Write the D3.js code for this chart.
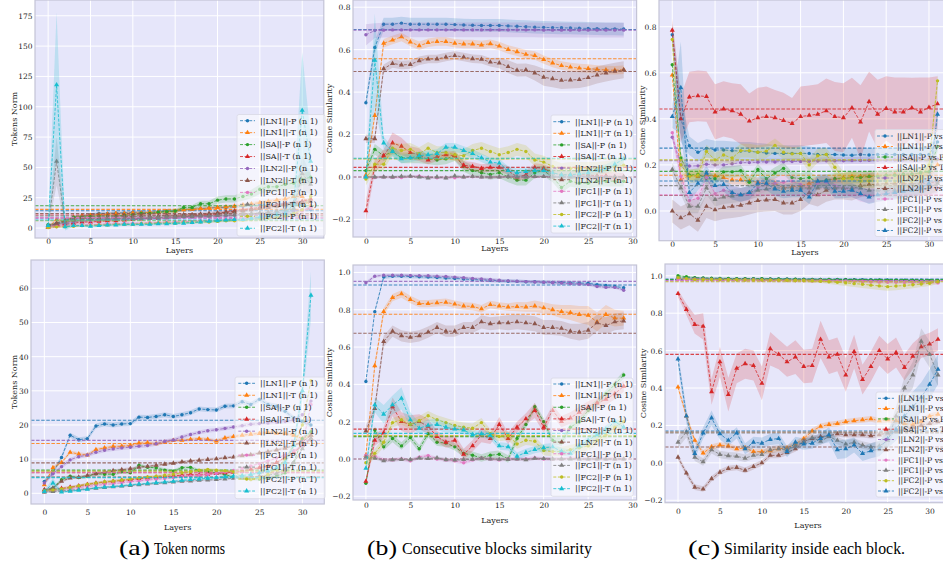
<!DOCTYPE html>
<meta charset="utf-8">
<style>
  body { margin: 0; background: #fff; }
  svg text { font-family: "DejaVu Serif", serif; fill: #262626; }
  .cap text { font-family: "Liberation Serif", serif; fill: #000; }
</style>
<body>
<script src="https://d3js.org/d3.v7.min.js"></script>
<script>

// ---------- data ----------
var layers32 = d3.range(32);
var layers30 = d3.range(30);
var xTicks = [0, 5, 10, 15, 20, 25, 30];

var tab10 = ["#1f77b4", "#ff7f0e", "#2ca02c", "#d62728", "#9467bd", "#8c564b", "#e377c2", "#7f7f7f", "#bcbd22", "#17becf"];
var insideColors = ["#1f77b4", "#ff7f0e", "#2ca02c", "#d62728", "#9467bd", "#8c564b", "#e377c2", "#7f7f7f", "#bcbd22", "#1f77b4"];

var normNames = ["||LN1||-P (n 1)", "||LN1||-T (n 1)", "||SA||-P (n 1)", "||SA||-T (n 1)", "||LN2||-P (n 1)",
                 "||LN2||-T (n 1)", "||FC1||-P (n 1)", "||FC1||-T (n 1)", "||FC2||-P (n 1)", "||FC2||-T (n 1)"];
var insideNames = ["||LN1||-P vs P", "||LN1||-P vs T", "||SA||-P vs P", "||SA||-P vs T", "||LN2||-P vs P",
                   "||LN2||-P vs T", "||FC1||-P vs P", "||FC1||-P vs T", "||FC2||-P vs P", "||FC2||-P vs T"];

var normTopTicks = [0, 25, 50, 75, 100, 125, 150, 175];
var normBotTicks = [0, 10, 20, 30, 40, 50, 60];
var consTopTicks = [-0.2, 0.0, 0.2, 0.4, 0.6, 0.8];
var consBotTicks = [-0.2, 0.0, 0.2, 0.4, 0.6, 0.8, 1.0];
var insideTopTicks = [0.0, 0.2, 0.4, 0.6, 0.8];
var insideBotTicks = [-0.2, 0.0, 0.2, 0.4, 0.6, 0.8, 1.0];

// (a) top: token norms
var normTopValues = [
  [2,4,6,9,10,11,12,12,12.5,12.5,13,13,13,13.5,14,14,15,15.5,16,16.5,17,17,17.5,18,18.5,19,19,19.5,20,20,19,15],
  [0.5,7,6,9,10,10.5,11,11.5,12,12,12.5,12.5,13,13,13.5,14,15,15.5,16,16.5,17,17.5,18,19,20,21,22,23,24,26,26,18],
  [3,3,5,9,9,9.5,10,10,10,10.5,11,12,12,13,13.5,14,17,17,20,20,23,24,24,26,28,32,34,34,36,37,40,42],
  [1,2,3,4,5,5,5.5,6,6,6.5,7,7.5,8,8,8.5,9,9.5,10,10.5,11,12,13,14,15,16,17,18,19,20,21,22,24],
  [2,3,4,5,6,6,6.5,7,7,7.5,7.5,8,8,8,8.5,8.5,9,9,9.5,9.5,10,10,10.5,11,11,11.5,12,12.5,13,14,15,16],
  [1,4,6,7,8,8,8.5,9,9,9.5,9.5,10,10,10,10.5,10.5,11,11,11.5,12,12.5,13,13.5,14,15,16,17,18,19,20,21,22],
  [0.5,1,1.5,2,2.5,3,3,3.5,3.5,4,4,4,4.5,4.5,5,5,5.5,5.5,6,6,6.5,7,7,7.5,8,8.5,9,10,11,12,14,17],
  [2,55,5,6,6.5,7,7,7.5,7.5,8,8,8,8.5,8.5,9,9,9.5,9.5,10,10,10.5,11,11,11.5,12,12.5,13,14,15,16,45,36],
  [0.5,1,1,1.5,2,2,2.5,2.5,3,3,3,3.5,3.5,4,4,4,4.5,4.5,5,5,5.5,6,6,6.5,7,7.5,8,9,10,12,15,26],
  [2,118,1,2,2,1.5,2,2.5,2.5,3,3,3,3,3.5,3.5,4,4,4.5,5,5.5,6,6.5,7,7,8,9,10,11,12,20,97,55]
];
var normTopMeans = [14.3, 15.4, 18.4, 10.7, 8.2, 12, 8.6, 9.9, 6, 6.6];
var normTopBands = [1.2, 1.5,
  [0.5,0.5,1,1,1,1,1,1,1,1,1,1,1,1,1.5,1.5,2,2,2.5,2.5,3,3,3,3.5,3.5,4,4,4,4.5,4.5,5,5],
  1.2, 1, 1.5, 1,
  [1,20,2,1,1,1,1,1,1,1,1,1,1,1,1,1,1,1,1,1,1,1,1,1,1,1,1,1.5,2,4,15,8],
  1,
  [2,60,3,1,1,1,1,1,1,1,1,1,1,1,1,1,1,1,1,1,1,1,1,1,1,2,2,3,4,10,48,20]];

// (a) bottom
var normBotValues = [
  [3.5,6,10.5,17,15.7,16,19.7,20.3,20,20.3,20.4,22.3,22.2,22.5,23,22.5,23,23.6,24.7,24.5,24.4,25.5,25.6,26.8,26,27.5,26,25.5,24,22,21,20],
  [2.5,7.5,9,12,11.5,11.2,12.8,13.3,13.7,13.8,14,14.7,14.8,14.5,15,15.5,15.5,15.8,16,15.8,15.3,16.2,16.6,17,17.3,17.5,17.8,17.6,17.5,17,16,17],
  [0.5,1.5,4,5,4.6,5,5.7,5.6,5.6,6.3,6,8.2,7.6,7.5,6.8,6.5,7.5,7.6,6.6,6.3,6,5.5,4.8,4.5,4.3,4.2,4.5,5,6,9,16,18],
  [1,1.2,1.4,1.8,2.2,2.6,3,3.3,3.5,3.8,4,4.3,4.5,4.7,4.9,5.1,5.3,5.5,5.4,5.6,5.8,6,6.2,6.5,7,7.5,8,9,10.5,12,14,16],
  [3,5.7,7.8,9.8,10.7,11.2,12,12.6,13,13.3,13.5,13.8,14,14.5,15.2,15.6,16.5,17.2,17.8,18.3,18.6,19,19.4,19.8,20.2,20.4,20.6,20.8,21,21.5,23,27],
  [1,1.5,3.5,4.5,4.7,5.2,5.7,6.2,6.6,6.9,7.2,7.6,7.9,8.2,8.5,8.8,9.2,9.5,9.7,9.9,10.1,10.4,10.6,11,11.3,11.8,12.2,12.7,13.2,14,15,17],
  [0.5,0.8,1.1,1.4,1.7,2,2.3,2.6,2.8,3.1,3.4,3.6,3.9,4.1,4.3,4.6,4.9,5.1,5.3,5.5,5.8,6.2,6.7,7.3,8,8.7,9.5,10.3,11.2,12.5,14,26],
  [0.3,0.5,0.7,0.9,1.1,1.3,1.5,1.7,1.9,2.1,2.3,2.5,2.7,2.9,3.1,3.3,3.5,3.6,3.8,3.9,4,4.2,4.4,4.6,4.8,5,5.3,5.8,7,9,13,16],
  [0.8,1,1.3,1.7,2.2,2.7,3,3.4,3.6,3.9,4.2,4.5,4.8,5,5.3,5.6,6,6.3,6.8,7,6.8,6.6,6.3,5,4,4.5,5.5,7,10,14,20,33],
  [0.5,3,0.4,0.6,0.9,1.2,1.6,1.8,2,2.2,2.5,2.7,2.9,3.1,3.3,3.5,3.8,4,4.2,4.4,4.6,4.8,5,5.2,5.5,6,6.5,7.5,9,14,30,58]
];
var normBotMeans = [21.4, 14.6, 6.8, 6.0, 15.5, 8.9, 6.2, 4.8, 6.5, 4.6];
var normBotBands = [0.7, 0.5, 0.5, 0.4, 0.6, 0.4, 0.3, 0.3, 0.4,
  [0.3,1.5,0.3,0.3,0.3,0.3,0.3,0.3,0.3,0.3,0.3,0.3,0.3,0.3,0.3,0.3,0.3,0.3,0.3,0.3,0.3,0.3,0.3,0.3,0.3,0.4,0.5,0.6,0.8,1.5,3,7]];

// (b) top: consecutive blocks similarity
var consTopValues = [
  [0.35,0.61,0.72,0.72,0.725,0.72,0.72,0.72,0.72,0.72,0.718,0.716,0.715,0.714,0.714,0.714,0.712,0.71,0.708,0.706,0.705,0.704,0.703,0.702,0.701,0.7,0.699,0.698,0.698,0.697],
  [0.01,0.29,0.63,0.645,0.66,0.636,0.618,0.633,0.638,0.638,0.63,0.627,0.627,0.622,0.628,0.617,0.601,0.59,0.578,0.572,0.553,0.537,0.525,0.518,0.513,0.511,0.507,0.504,0.503,0.505],
  [0.03,0.13,0.1,0.12,0.09,0.09,0.09,0.085,0.08,0.085,0.1,0.05,0.03,0.02,0.012,0.02,0.0,-0.015,-0.015,0.02,0.03,0.0,-0.05,-0.02,-0.03,-0.03,-0.02,-0.02,-0.02,-0.02],
  [-0.16,0.05,0.1,0.16,0.145,0.115,0.105,0.08,0.095,0.105,0.1,0.055,0.05,0.04,0.045,0.045,0.03,0.0,0.01,0.045,0.04,0.02,0.01,0.01,0.01,0.01,0.005,0.005,0.0,0.0],
  [0.67,0.69,0.692,0.693,0.693,0.693,0.693,0.693,0.693,0.693,0.693,0.693,0.693,0.693,0.693,0.693,0.693,0.693,0.693,0.693,0.692,0.692,0.692,0.692,0.692,0.692,0.692,0.692,0.692,0.692],
  [0.18,0.18,0.51,0.535,0.528,0.53,0.548,0.556,0.556,0.565,0.572,0.565,0.557,0.555,0.541,0.537,0.52,0.503,0.505,0.49,0.47,0.463,0.455,0.457,0.459,0.468,0.48,0.49,0.498,0.505],
  [0.0,-0.003,0.0,-0.002,-0.003,0.002,0.004,-0.002,-0.004,-0.003,-0.004,0.0,0.001,0.0,-0.001,0.0,0.001,0.002,0.0,0.001,0.002,0.001,0.0,0.0,0.001,0.0,0.0,0.001,0.0,0.0],
  [0.0,0.0,0.0,0.0,0.003,0.004,0.0,-0.005,0.0,-0.005,0.005,0.0,0.003,0.0,0.0,0.0,0.002,0.0,0.0,0.002,0.002,0.0,0.0,0.0,0.0,0.002,0.0,0.0,0.001,0.0],
  [-0.01,0.06,0.06,0.135,0.125,0.13,0.11,0.135,0.115,0.115,0.105,0.1,0.125,0.135,0.12,0.105,0.115,0.13,0.12,0.08,0.07,0.05,0.035,0.04,0.04,0.04,0.04,0.045,0.05,0.055],
  [0.0,0.55,0.16,0.12,0.085,0.09,0.1,0.105,0.11,0.14,0.14,0.125,0.11,0.09,0.07,0.065,0.03,0.02,0.025,0.03,0.03,0.02,0.01,0.01,0.015,0.02,0.03,0.04,0.06,0.085]
];
var consTopMeans = [0.695, 0.557, 0.03, 0.045, 0.692, 0.497, 0.0, 0.0, 0.085, 0.088];
var consTopBands = [0.03, 0.02, 0.025,
  [0.05,0.03,0.03,0.05,0.04,0.03,0.03,0.02,0.02,0.02,0.02,0.02,0.02,0.02,0.02,0.02,0.02,0.02,0.02,0.02,0.02,0.02,0.02,0.02,0.02,0.02,0.02,0.02,0.02,0.02],
  [0.05,0.035,0.035,0.035,0.035,0.035,0.035,0.035,0.035,0.035,0.035,0.035,0.035,0.035,0.035,0.035,0.035,0.035,0.035,0.035,0.035,0.035,0.035,0.035,0.035,0.035,0.035,0.035,0.035,0.035],
  [0.02,0.02,0.02,0.02,0.02,0.02,0.02,0.02,0.02,0.02,0.02,0.02,0.02,0.02,0.02,0.025,0.03,0.03,0.03,0.035,0.04,0.04,0.04,0.04,0.04,0.04,0.04,0.04,0.04,0.04],
  0.006, 0.006, 0.03,
  [0.02,0.22,0.03,0.02,0.02,0.02,0.02,0.02,0.02,0.02,0.02,0.02,0.02,0.02,0.02,0.02,0.02,0.02,0.02,0.02,0.02,0.02,0.02,0.02,0.02,0.02,0.02,0.02,0.02,0.02]];

// (b) bottom
var consBotValues = [
  [0.415,0.79,0.975,0.98,0.98,0.978,0.977,0.975,0.973,0.97,0.968,0.965,0.962,0.96,0.958,0.955,0.953,0.952,0.95,0.95,0.948,0.947,0.946,0.944,0.943,0.942,0.935,0.93,0.925,0.918],
  [0.02,0.5,0.79,0.865,0.885,0.855,0.833,0.833,0.837,0.84,0.83,0.82,0.818,0.805,0.828,0.82,0.815,0.817,0.815,0.82,0.81,0.8,0.79,0.785,0.775,0.77,0.735,0.775,0.755,0.755],
  [-0.13,0.155,0.065,0.11,0.07,0.115,0.055,0.135,0.09,0.085,0.065,0.03,0.02,0.005,0.02,0.025,0.0,0.11,0.185,0.28,0.2,0.1,0.09,0.17,0.2,0.26,0.3,0.35,0.4,0.45],
  [-0.12,0.1,0.14,0.28,0.2,0.185,0.2,0.175,0.12,0.09,0.1,0.025,0.07,0.13,0.11,0.185,0.11,0.17,0.215,0.26,0.17,0.26,0.2,0.22,0.25,0.28,0.3,0.32,0.35,0.39],
  [0.945,0.98,0.985,0.985,0.985,0.984,0.983,0.982,0.98,0.978,0.975,0.972,0.968,0.965,0.962,0.958,0.955,0.953,0.951,0.949,0.947,0.945,0.943,0.94,0.938,0.935,0.925,0.92,0.92,0.905],
  [0.15,0.27,0.63,0.685,0.66,0.652,0.66,0.68,0.705,0.685,0.685,0.705,0.705,0.735,0.725,0.73,0.73,0.735,0.73,0.725,0.705,0.705,0.7,0.685,0.68,0.69,0.73,0.715,0.735,0.74],
  [0.02,0.015,-0.005,-0.005,0.0,-0.01,0.01,0.018,0.0,-0.005,-0.01,-0.02,-0.005,0.005,0.0,-0.005,0.0,0.0,0.0,0.005,0.0,0.0,0.0,0.005,0.0,0.0,0.0,0.0,0.0,0.0],
  [0.01,0.005,-0.01,-0.005,-0.003,-0.004,0.005,0.002,0.006,-0.004,-0.006,-0.003,-0.002,0.003,0.0,-0.002,-0.003,0.0,-0.005,0.003,0.002,0.0,0.0,0.0,0.0,0.0,0.0,0.0,0.0,0.0],
  [-0.02,0.03,0.09,0.195,0.21,0.185,0.205,0.232,0.21,0.195,0.18,0.17,0.165,0.195,0.135,0.12,0.125,0.08,0.1,0.095,0.045,0.04,0.04,0.05,0.06,0.07,0.1,0.13,0.17,0.2],
  [-0.05,0.29,0.24,0.29,0.325,0.21,0.165,0.18,0.185,0.17,0.16,0.155,0.13,0.135,0.125,0.07,0.065,0.015,0.035,0.05,0.06,0.065,0.04,0.03,0.07,0.1,0.13,0.16,0.2,0.17]
];
var consBotMeans = [0.933, 0.776, 0.12, 0.16, 0.952, 0.674, 0.0, 0.0, 0.125, 0.137];
var consBotBands = [0.01,
  [0.02,0.02,0.02,0.02,0.02,0.02,0.02,0.02,0.02,0.02,0.02,0.02,0.02,0.02,0.02,0.02,0.02,0.025,0.025,0.03,0.03,0.03,0.035,0.04,0.045,0.05,0.05,0.05,0.045,0.04],
  0.02,
  [0.02,0.03,0.03,0.05,0.05,0.05,0.04,0.04,0.03,0.03,0.03,0.03,0.03,0.04,0.03,0.04,0.03,0.03,0.03,0.04,0.03,0.03,0.03,0.03,0.03,0.03,0.03,0.03,0.03,0.03],
  0.008,
  [0.03,0.03,0.03,0.03,0.03,0.03,0.03,0.03,0.03,0.03,0.03,0.03,0.03,0.035,0.035,0.035,0.04,0.04,0.04,0.04,0.04,0.04,0.04,0.04,0.045,0.045,0.045,0.045,0.045,0.045],
  0.01, 0.008, 0.025,
  [0.02,0.04,0.05,0.05,0.06,0.04,0.03,0.03,0.03,0.03,0.02,0.02,0.02,0.02,0.02,0.02,0.02,0.02,0.02,0.02,0.02,0.02,0.02,0.02,0.02,0.02,0.02,0.02,0.02,0.02]];

// (c) top: similarity inside each block
var insideTopValues = [
  [0.765,0.4,0.283,0.255,0.272,0.265,0.265,0.262,0.26,0.26,0.255,0.252,0.25,0.25,0.25,0.25,0.25,0.245,0.245,0.245,0.243,0.242,0.245,0.243,0.245,0.245,0.245,0.245,0.245,0.245,0.245,0.3],
  [0.59,0.135,0.155,0.15,0.155,0.152,0.145,0.135,0.135,0.13,0.125,0.12,0.12,0.1,0.105,0.11,0.12,0.13,0.13,0.14,0.145,0.15,0.15,0.15,0.155,0.155,0.16,0.16,0.16,0.165,0.17,0.2],
  [0.635,0.23,0.155,0.16,0.14,0.14,0.17,0.17,0.175,0.125,0.18,0.14,0.165,0.185,0.145,0.14,0.145,0.125,0.135,0.14,0.14,0.145,0.145,0.15,0.15,0.155,0.155,0.16,0.16,0.165,0.17,0.28],
  [0.785,0.4,0.495,0.5,0.497,0.43,0.443,0.435,0.42,0.39,0.405,0.41,0.405,0.393,0.38,0.41,0.415,0.42,0.435,0.41,0.405,0.448,0.386,0.475,0.42,0.445,0.43,0.43,0.448,0.43,0.45,0.465],
  [0.32,0.2,0.195,0.196,0.203,0.2,0.2,0.205,0.21,0.21,0.212,0.213,0.213,0.214,0.215,0.215,0.216,0.217,0.218,0.218,0.218,0.219,0.219,0.22,0.22,0.221,0.222,0.222,0.223,0.224,0.224,0.225],
  [0.0,-0.03,-0.012,-0.04,0.02,0.005,0.015,0.02,0.025,0.035,0.045,0.048,0.05,0.035,0.035,0.05,0.08,0.07,0.09,0.1,0.1,0.095,0.11,0.115,0.115,0.12,0.12,0.12,0.12,0.12,0.12,0.13],
  [0.34,0.15,0.045,0.055,0.145,0.075,0.09,0.08,0.07,0.075,0.1,0.115,0.12,0.125,0.13,0.115,0.1,0.12,0.125,0.11,0.1,0.09,0.07,0.065,0.07,0.08,0.085,0.09,0.09,0.095,0.1,0.1],
  [0.18,0.1,0.02,0.02,0.1,0.05,0.06,0.065,0.07,0.08,0.09,0.095,0.1,0.1,0.1,0.1,0.1,0.1,0.1,0.1,0.1,0.1,0.1,0.09,0.09,0.09,0.09,0.09,0.09,0.095,0.1,0.12],
  [0.745,0.2,0.15,0.155,0.258,0.222,0.243,0.23,0.262,0.262,0.255,0.26,0.285,0.255,0.248,0.25,0.2,0.24,0.245,0.19,0.14,0.14,0.13,0.13,0.13,0.13,0.13,0.13,0.13,0.14,0.2,0.565],
  [0.41,0.535,0.08,0.12,0.165,0.11,0.115,0.08,0.07,0.08,0.12,0.12,0.095,0.085,0.09,0.09,0.06,0.13,0.13,0.085,0.085,0.09,0.075,0.06,0.07,0.075,0.08,0.085,0.09,0.1,0.12,0.42]
];
var insideTopMeans = [0.273, 0.155, 0.172, 0.443, 0.218, 0.067, 0.07, 0.11, 0.222, 0.13];
var insideTopBands = [
  [0.05,0.1,0.04,0.04,0.04,0.04,0.04,0.04,0.04,0.04,0.04,0.04,0.035,0.035,0.035,0.035,0.03,0.03,0.03,0.03,0.03,0.03,0.03,0.03,0.03,0.03,0.03,0.03,0.03,0.03,0.03,0.04],
  0.02, 0.025,
  [0.05,0.1,0.11,0.11,0.11,0.12,0.12,0.12,0.13,0.12,0.13,0.13,0.12,0.12,0.11,0.13,0.13,0.13,0.14,0.15,0.15,0.13,0.16,0.13,0.15,0.14,0.15,0.15,0.13,0.15,0.13,0.12],
  0.015, 0.05, 0.03, 0.03, 0.03,
  [0.05,0.2,0.04,0.03,0.03,0.03,0.03,0.03,0.03,0.03,0.03,0.03,0.03,0.03,0.03,0.03,0.03,0.03,0.03,0.03,0.03,0.03,0.03,0.03,0.03,0.03,0.03,0.03,0.03,0.03,0.03,0.04]];

// (c) bottom
var insideBotValues = [
  [0.99,0.99,0.988,0.987,0.986,0.986,0.985,0.985,0.985,0.984,0.984,0.983,0.983,0.983,0.982,0.982,0.981,0.981,0.98,0.98,0.98,0.979,0.979,0.978,0.978,0.978,0.977,0.977,0.976,0.976,0.975,0.975],
  [0.405,0.25,0.12,0.052,0.085,0.095,0.09,0.075,0.08,0.06,0.06,0.065,0.075,0.08,0.1,0.13,0.17,0.195,0.205,0.21,0.22,0.225,0.23,0.235,0.225,0.23,0.225,0.21,0.205,0.22,0.25,0.26],
  [1.0,0.995,0.99,0.988,0.987,0.986,0.986,0.985,0.985,0.984,0.984,0.983,0.983,0.982,0.982,0.981,0.981,0.98,0.98,0.979,0.979,0.978,0.977,0.977,0.976,0.975,0.975,0.974,0.974,0.973,0.973,0.972],
  [0.905,0.82,0.74,0.73,0.38,0.54,0.365,0.505,0.53,0.52,0.425,0.61,0.58,0.54,0.565,0.515,0.52,0.66,0.565,0.58,0.47,0.595,0.445,0.515,0.6,0.555,0.59,0.51,0.57,0.62,0.635,0.66],
  [0.985,0.985,0.984,0.983,0.982,0.982,0.981,0.981,0.98,0.98,0.979,0.979,0.978,0.978,0.977,0.977,0.976,0.976,0.975,0.975,0.974,0.973,0.972,0.971,0.97,0.97,0.969,0.968,0.968,0.967,0.967,0.966],
  [0.03,-0.055,-0.13,-0.14,-0.085,-0.05,-0.03,-0.025,-0.04,-0.02,0.0,0.04,0.04,0.055,0.075,0.115,0.13,0.14,0.145,0.155,0.15,0.15,0.15,0.145,0.15,0.16,0.17,0.18,0.19,0.2,0.21,0.22],
  [0.98,0.98,0.979,0.979,0.978,0.978,0.977,0.977,0.976,0.976,0.975,0.975,0.974,0.974,0.973,0.973,0.972,0.972,0.971,0.97,0.97,0.969,0.968,0.967,0.966,0.965,0.965,0.964,0.964,0.963,0.963,0.962],
  [0.11,0.165,0.03,0.005,0.07,0.045,0.038,0.035,0.025,0.04,0.045,0.07,0.075,0.07,0.09,0.11,0.135,0.115,0.14,0.12,0.1,0.11,0.095,0.085,0.09,0.12,0.25,0.4,0.47,0.65,0.58,0.47],
  [0.99,0.985,0.98,0.98,0.98,0.98,0.979,0.979,0.978,0.978,0.978,0.977,0.977,0.976,0.975,0.975,0.973,0.971,0.968,0.965,0.962,0.958,0.955,0.95,0.946,0.942,0.945,0.948,0.952,0.956,0.96,0.968],
  [0.555,0.25,0.05,0.16,0.24,0.155,0.12,0.16,0.075,0.11,0.105,0.125,0.13,0.06,0.11,0.1,0.105,0.13,0.15,0.07,0.075,0.095,0.05,0.065,0.075,0.13,0.18,0.25,0.3,0.35,0.42,0.5]
];
var insideBotMeans = [0.982, 0.165, 0.98, 0.58, 0.975, 0.085, 0.972, 0.16, 0.968, 0.17];
var insideBotBands = [0.005, 0.015, 0.005,
  [0.02,0.03,0.05,0.07,0.07,0.08,0.09,0.08,0.08,0.08,0.09,0.09,0.08,0.08,0.09,0.09,0.09,0.1,0.09,0.09,0.09,0.09,0.08,0.08,0.08,0.08,0.08,0.07,0.07,0.06,0.06,0.06],
  0.005, 0.015, 0.008,
  [0.03,0.03,0.02,0.02,0.02,0.02,0.02,0.02,0.02,0.02,0.02,0.02,0.02,0.02,0.02,0.02,0.02,0.02,0.02,0.02,0.02,0.02,0.02,0.02,0.03,0.04,0.05,0.06,0.07,0.07,0.07,0.06],
  [0.005,0.005,0.005,0.005,0.005,0.005,0.005,0.005,0.005,0.005,0.006,0.006,0.006,0.007,0.008,0.008,0.01,0.01,0.012,0.014,0.016,0.018,0.02,0.02,0.022,0.022,0.022,0.02,0.018,0.016,0.015,0.012],
  [0.04,0.04,0.03,0.03,0.04,0.03,0.03,0.03,0.03,0.03,0.03,0.03,0.03,0.03,0.03,0.03,0.03,0.03,0.04,0.05,0.05,0.04,0.04,0.04,0.04,0.05,0.06,0.07,0.08,0.08,0.08,0.08]];

// ---------- layout ----------
var intFmt = d3.format("d");
var decFmt = d3.format(".1f");

var panels = [
  { key: "aTop", left: 35, right: 323.8, top: 0, bottom: 238, xDomain: [-1.55, 32.55], yDomain: [-8.2, 188],
    yTicks: normTopTicks, fmt: intFmt, layers: layers32, values: normTopValues, means: normTopMeans, bands: normTopBands,
    names: normNames, colors: tab10, ylabel: "Tokens Norm", ylabelX: 14, xTickC: 241.5, xLabelC: 250.7,
    legend: { x: 237, y: 114.5, w: 88, y0: 120.7, step: 11.95, fs: 8, h0: 240, h1: 255, tx: 260 } },
  { key: "bTop", left: 353, right: 636.6, top: 0, bottom: 237, xDomain: [-1.45, 30.45], yDomain: [-0.283, 0.834],
    yTicks: consTopTicks, fmt: decFmt, layers: layers30, values: consTopValues, means: consTopMeans, bands: consTopBands,
    names: normNames, colors: tab10, ylabel: "Cosine Similarity", ylabelX: 329, xTickC: 241, xLabelC: 248.7,
    legend: { x: 551, y: 115, w: 82, y0: 121.7, step: 11.6, fs: 8, h0: 553.3, h1: 570, tx: 575 } },
  { key: "cTop", left: 659, right: 950.8, top: 0, bottom: 240.7, xDomain: [-1.55, 32.55], yDomain: [-0.129, 0.916],
    yTicks: insideTopTicks, fmt: decFmt, layers: layers32, values: insideTopValues, means: insideTopMeans, bands: insideTopBands,
    names: insideNames, colors: insideColors, ylabel: "Cosine Similarity", ylabelX: 642.3, xTickC: 244.3, xLabelC: 252.3,
    legend: { x: 875, y: 129.5, w: 80, y0: 136, step: 10.5, fs: 7.7, h0: 877, h1: 893, tx: 897 } },
  { key: "aBot", left: 31, right: 324.3, top: 260, bottom: 504, xDomain: [-1.55, 32.55], yDomain: [-3.13, 68.3],
    yTicks: normBotTicks, fmt: intFmt, layers: layers32, values: normBotValues, means: normBotMeans, bands: normBotBands,
    names: normNames, colors: tab10, ylabel: "Tokens Norm", ylabelX: 14, xTickC: 512, xLabelC: 528,
    legend: { x: 235, y: 377, w: 90, y0: 383.3, step: 11.97, fs: 8, h0: 238.3, h1: 255, tx: 260 } },
  { key: "bBot", left: 353, right: 636.6, top: 265, bottom: 500, xDomain: [-1.45, 30.45], yDomain: [-0.22, 1.04],
    yTicks: consBotTicks, fmt: decFmt, layers: layers30, values: consBotValues, means: consBotMeans, bands: consBotBands,
    names: normNames, colors: tab10, ylabel: "Cosine Similarity", ylabelX: 329, xTickC: 505, xLabelC: 521,
    legend: { x: 551, y: 378, w: 82, y0: 384, step: 11.63, fs: 8, h0: 553.3, h1: 570, tx: 575 } },
  { key: "cBot", left: 665, right: 951, top: 264, bottom: 502.7, xDomain: [-1.55, 32.55], yDomain: [-0.213, 1.063],
    yTicks: insideBotTicks, fmt: decFmt, layers: layers32, values: insideBotValues, means: insideBotMeans, bands: insideBotBands,
    names: insideNames, colors: insideColors, ylabel: "Cosine Similarity", ylabelX: 643.3, xTickC: 511, xLabelC: 526,
    legend: { x: 876, y: 392, w: 80, y0: 398.3, step: 10.3, fs: 7.7, h0: 878, h1: 894, tx: 898 } }
];

var svg = d3.select("body").append("svg")
    .attr("width", 943)
    .attr("height", 567);

var tickFs = 7.5;

function marker(sel, i, cx, cy, color) {
  if (i % 2 === 0) {
    sel.append("circle").attr("cx", cx).attr("cy", cy).attr("r", 1.7).attr("fill", color);
  } else {
    sel.append("path").attr("d", d3.symbol(d3.symbolTriangle).size(11)())
      .attr("transform", "translate(" + cx + "," + cy + ")").attr("fill", color);
  }
}

function drawPanel(p) {
  var x = d3.scaleLinear().domain(p.xDomain).range([p.left, p.right]);
  var y = d3.scaleLinear().domain(p.yDomain).range([p.bottom, p.top]);
  var g = svg.append("g");

  svg.append("clipPath").attr("id", "clip-" + p.key)
    .append("rect").attr("x", p.left).attr("y", p.top)
    .attr("width", p.right - p.left).attr("height", p.bottom - p.top);

  // background + grid
  g.append("rect").attr("x", p.left).attr("y", p.top)
    .attr("width", p.right - p.left).attr("height", p.bottom - p.top)
    .attr("fill", "#e6e6fa");
  g.selectAll(".gy").data(p.yTicks).enter().append("line")
    .attr("x1", p.left).attr("x2", p.right)
    .attr("y1", function(d) { return y(d); }).attr("y2", function(d) { return y(d); })
    .attr("stroke", "#fff").attr("stroke-width", 1);
  g.selectAll(".gx").data(xTicks).enter().append("line")
    .attr("y1", p.top).attr("y2", p.bottom)
    .attr("x1", function(d) { return x(d); }).attr("x2", function(d) { return x(d); })
    .attr("stroke", "#fff").attr("stroke-width", 1);

  var plot = g.append("g").attr("clip-path", "url(#clip-" + p.key + ")");

  p.values.forEach(function(vals, i) {
    var color = p.colors[i];
    var band = p.bands[i];
    var pts = vals.map(function(v, j) {
      var w = Array.isArray(band) ? (band[j] || 0) : band;
      return { l: p.layers[j], v: v, w: w };
    });
    plot.append("path").datum(pts)
      .attr("d", d3.area().x(function(d) { return x(d.l); })
        .y0(function(d) { return y(d.v - d.w); })
        .y1(function(d) { return y(d.v + d.w); }))
      .attr("fill", color).attr("fill-opacity", 0.2);
    plot.append("path").datum(pts)
      .attr("d", d3.line().x(function(d) { return x(d.l); }).y(function(d) { return y(d.v); }))
      .attr("fill", "none").attr("stroke", color).attr("stroke-width", 0.8)
      .attr("stroke-dasharray", "3,1.6");
    var mg = plot.append("g");
    pts.forEach(function(d) { marker(mg, i, x(d.l), y(d.v), color); });
    plot.append("line")
      .attr("x1", p.left).attr("x2", p.right)
      .attr("y1", y(p.means[i])).attr("y2", y(p.means[i]))
      .attr("stroke", color).attr("stroke-width", 1.1).attr("stroke-opacity", 0.85)
      .attr("stroke-dasharray", "3.5,1.6");
  });

  // frame
  g.append("rect").attr("x", p.left).attr("y", p.top)
    .attr("width", p.right - p.left).attr("height", p.bottom - p.top)
    .attr("fill", "none").attr("stroke", "#c4c4d6").attr("stroke-width", 1.2);

  // axes
  var ya = g.append("g").attr("transform", "translate(" + p.left + ",0)")
    .call(d3.axisLeft(y).tickValues(p.yTicks).tickFormat(p.fmt).tickSize(0).tickPadding(2.5));
  ya.select(".domain").remove();
  ya.attr("font-size", tickFs);

  var xa = g.append("g").attr("transform", "translate(0," + p.bottom + ")")
    .call(d3.axisBottom(x).tickValues(xTicks).tickFormat(intFmt).tickSize(0)
      .tickPadding(p.xTickC - p.bottom - 0.35 * tickFs));
  xa.select(".domain").remove();
  xa.attr("font-size", tickFs);

  g.append("text")
    .attr("x", (p.left + p.right) / 2).attr("y", p.xLabelC).attr("dy", "0.3em")
    .attr("text-anchor", "middle").style("font-size", "8px").text("Layers");
  g.append("text")
    .attr("transform", "translate(" + p.ylabelX + "," + (p.top + p.bottom) / 2 + ") rotate(-90)")
    .attr("dy", "0.35em").attr("text-anchor", "middle").style("font-size", "8px").text(p.ylabel);

  // legend
  var L = p.legend;
  var lg = g.append("g");
  lg.append("rect").attr("x", L.x).attr("y", L.y).attr("rx", 2)
    .attr("width", L.w).attr("height", L.step * 10 + 2)
    .attr("fill", "#fff").attr("fill-opacity", 0.55)
    .attr("stroke", "#d8d8e4").attr("stroke-width", 0.8);
  p.names.forEach(function(name, i) {
    var ly = L.y0 + i * L.step;
    lg.append("line").attr("x1", L.h0).attr("x2", L.h1).attr("y1", ly).attr("y2", ly)
      .attr("stroke", p.colors[i]).attr("stroke-width", 0.8).attr("stroke-dasharray", "3,1.6");
    marker(lg, i, (L.h0 + L.h1) / 2, ly, p.colors[i]);
    lg.append("text").attr("x", L.tx).attr("y", ly).attr("dy", "0.35em")
      .style("font-size", L.fs + "px").text(name);
  });
}

panels.forEach(drawPanel);

// captions
var captions = [
  { tag: "(a)", tx: 119, tw: 31, text: "Token norms", x: 154, w: 71 },
  { tag: "(b)", tx: 367, tw: 30, text: "Consecutive blocks similarity", x: 402, w: 190 },
  { tag: "(c)", tx: 688, tw: 32, text: "Similarity inside each block.", x: 724, w: 181 }
];
var cap = svg.append("g").attr("class", "cap");
captions.forEach(function(c) {
  cap.append("text").attr("x", c.tx).attr("y", 555).style("font-size", "21px")
    .attr("textLength", c.tw).attr("lengthAdjust", "spacingAndGlyphs").text(c.tag);
  cap.append("text").attr("x", c.x).attr("y", 554).style("font-size", "16px")
    .attr("textLength", c.w).attr("lengthAdjust", "spacingAndGlyphs").text(c.text);
});

</script>
